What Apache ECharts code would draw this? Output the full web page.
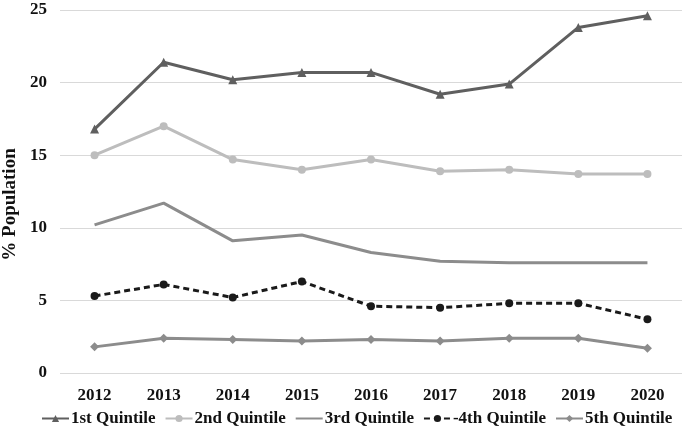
<!DOCTYPE html>
<html><head><meta charset="utf-8">
<script src="https://cdn.jsdelivr.net/npm/echarts@6/dist/echarts.min.js"></script>
<style>html,body{margin:0;padding:0;background:#fff}#c{width:685px;height:434px}</style>
</head><body><div id="c"></div>
<script>
var years = ['2012', '2013', '2014', '2015', '2016', '2017', '2018', '2019', '2020'];
var q1 = [16.8, 21.4, 20.2, 20.7, 20.7, 19.2, 19.9, 23.8, 24.6];
var q2 = [15.0, 17.0, 14.7, 14.0, 14.7, 13.9, 14.0, 13.7, 13.7];
var q3 = [10.2, 11.7, 9.1, 9.5, 8.3, 7.7, 7.6, 7.6, 7.6];
var q4 = [5.3, 6.1, 5.2, 6.3, 4.6, 4.5, 4.8, 4.8, 3.7];
var q5 = [1.8, 2.4, 2.3, 2.2, 2.3, 2.2, 2.4, 2.4, 1.7];
var names = ['1st Quintile', '2nd Quintile', '3rd Quintile', '-4th Quintile', '5th Quintile'];

var font = '"Liberation Serif", "Times New Roman", serif';
function mk(name, vals, color, symbol, size, dashed){
  return {
    name: name, type: 'line', data: vals,
    symbol: symbol, symbolSize: size, showSymbol: symbol !== 'none',
    lineStyle: {color: color, width: 3, type: dashed ? [6,4] : 'solid'},
    itemStyle: {color: color},
    emphasis: {disabled: true}
  };
}
var legendData = names.map(function(n, i){
  return i === 2 ? {name: n, itemStyle: {opacity: 0}} : {name: n};
});
var chart = echarts.init(document.getElementById('c'), null, {renderer: 'canvas'});
chart.setOption({
  animation: false,
  backgroundColor: '#fff',
  grid: {left: 60, right: 3, top: 10, bottom: 61, outerBoundsMode: 'none'},
  xAxis: {
    type: 'category', data: years, boundaryGap: true,
    axisLine: {show: false}, axisTick: {show: false}, splitLine: {show: false},
    axisLabel: {margin: 14, color: '#111', fontFamily: font, fontWeight: 'bold', fontSize: 17}
  },
  yAxis: {
    type: 'value', min: 0, max: 25, interval: 5,
    name: '% Population', nameLocation: 'middle', nameGap: 40, nameRotate: 90,
    nameTextStyle: {color: '#111', fontFamily: font, fontWeight: 'bold', fontSize: 19, padding: [0, 26, 0, 0]},
    axisLine: {show: false}, axisTick: {show: false},
    splitLine: {lineStyle: {color: '#d9d9d9', width: 1}},
    axisLabel: {margin: 13, color: '#111', fontFamily: font, fontWeight: 'bold', fontSize: 17}
  },
  legend: {
    bottom: 2, left: 36, itemWidth: 27, itemHeight: 9, itemGap: 9,
    textStyle: {color: '#111', fontFamily: font, fontWeight: 'bold', fontSize: 17, padding: [0, 0, 0, -3]},
    data: legendData
  },
  series: [
    mk(names[0], q1, '#5f5f5f', 'triangle', 9, false),
    mk(names[1], q2, '#bdbdbd', 'circle', 8, false),
    mk(names[2], q3, '#8c8c8c', 'none', 0, false),
    mk(names[3], q4, '#1a1a1a', 'circle', 8, true),
    mk(names[4], q5, '#8c8c8c', 'diamond', 9, false)
  ]
});
</script></body></html>
